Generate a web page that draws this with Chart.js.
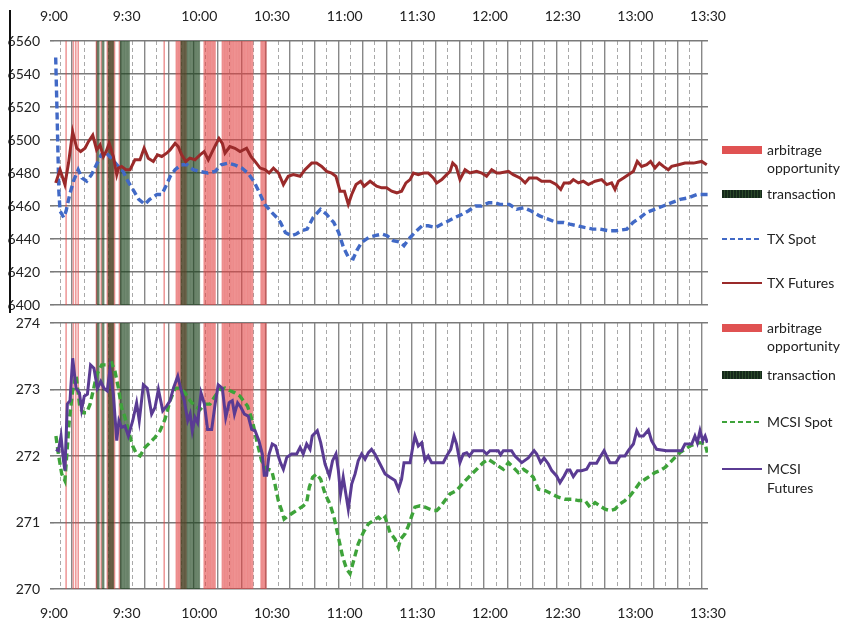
<!DOCTYPE html>
<html>
<head>
<meta charset="utf-8">
<title>TX / MCSI spot vs futures – arbitrage</title>
<script src="https://cdn.jsdelivr.net/npm/chart.js@4.4.1/dist/chart.umd.min.js"></script>
<style>
    html, body { margin: 0; padding: 0; background: #fff; }
    body { width: 843px; height: 623px; position: relative; overflow: hidden;
           font-family: Lato, "Open Sans", sans-serif; color: #222; }
    canvas { position: absolute; left: 0; }
    #txChart { top: 0; }
    #mcsiChart { top: 305px; }
    .edge { position: absolute; left: 9px; top: 10px; width: 2px; height: 303px; background: #111; }
    .sw { position: absolute; left: 722px; width: 40px; }
    .sw.arb { height: 8px; background: #e05252; }
    .sw.trn { height: 8px; background: repeating-linear-gradient(90deg, #15291a 0 2px, #2c4a2b 2px 3px); }
    .sw.line { height: 2px; }
    .tx { position: absolute; left: 767px; font-size: 14px; line-height: 18px; white-space: nowrap; }
</style>
</head>
<body>
<canvas id="txChart" width="735" height="318"></canvas>
<canvas id="mcsiChart" width="735" height="318"></canvas>
<div class="edge"></div>

<!-- legend, top panel -->
<div class="sw arb" style="top:146px"></div>
<div class="tx" style="top:141px">arbitrage<br>opportunity</div>
<div class="sw trn" style="top:190px"></div>
<div class="tx" style="top:185px">transaction</div>
<div class="sw line" style="top:238px;background:repeating-linear-gradient(90deg,#4169c6 0 5px,transparent 5px 8px)"></div>
<div class="tx" style="top:230px">TX Spot</div>
<div class="sw line" style="top:282px;background:#9a2a2a"></div>
<div class="tx" style="top:274px">TX Futures</div>

<!-- legend, bottom panel -->
<div class="sw arb" style="top:324px"></div>
<div class="tx" style="top:319px">arbitrage<br>opportunity</div>
<div class="sw trn" style="top:371px"></div>
<div class="tx" style="top:366px">transaction</div>
<div class="sw line" style="top:421px;background:repeating-linear-gradient(90deg,#3ea33a 0 5px,transparent 5px 8px)"></div>
<div class="tx" style="top:413px">MCSI Spot</div>
<div class="sw line" style="top:468px;background:#5a3b93"></div>
<div class="tx" style="top:459px;line-height:19px">MCSI<br>Futures</div>

<script>
// ── Axis ticks ────────────────────────────────────────────
// x values are minutes after 9:00
var TIME_TICKS  = [0, 30, 60, 90, 120, 150, 180, 210, 240, 270];
var TIME_LABELS = ['9:00', '9:30', '10:00', '10:30', '11:00', '11:30', '12:00', '12:30', '13:00', '13:30'];
var TX_TICKS    = [6400, 6420, 6440, 6460, 6480, 6500, 6520, 6540, 6560];
var MCSI_TICKS  = [270, 271, 272, 273, 274];

// ── Event minutes (shaded columns, both panels) ───────────
var arbitrage = [5, 8, 9, 10, 17.5, 19.5, 22, 22.5, 23, 23.5, 24, 24.5, 25, 27,
    45.5, 50.5, 51, 51.5, 52, 52.5, 53, 53.5, 54, 54.5,
    62, 62.5, 63, 63.5, 64, 64.5, 65, 65.5, 66, 66.5,
    69.5, 70, 70.5, 71, 71.5, 72, 72.5, 73, 73.5, 74, 74.5, 75, 75.5, 76, 76.5,
    77, 77.5, 78, 78.5, 79, 79.5, 80, 80.5, 81, 81.5, 82,
    85.5, 86, 86.5, 87, 87.5];
var transaction = [18, 18.5, 20, 20.5, 22.5, 23, 23.5, 24, 24.5,
    27.5, 28, 28.5, 29, 29.5, 30, 30.5, 31,
    52.5, 53, 53.5, 54, 54.5, 55, 55.5, 56, 56.5, 57, 57.5, 58, 58.5, 59, 59.5, 60];

// ── Series: [minute, value] ───────────────────────────────
var txSpot = [[0.7,6550],[1.2,6520],[2,6469],[2.5,6457],[4,6453],[5,6457],[6.5,6467],[8,6475],
    [10,6482],[11.5,6477],[13.5,6475],[15.5,6479],[17.5,6485],[19.5,6491],[21,6493],[23,6490],
    [26,6485],[28.5,6481],[30.5,6475],[33,6469],[35,6464],[37.5,6461],[39.5,6464],[42.5,6467],
    [44.5,6467],[46.5,6473],[48,6478],[50,6482],[52.5,6485],[55,6485],[57.5,6482],[60,6481],
    [63.5,6480],[66.5,6481],[69,6485],[72,6486],[74.5,6485],[77.5,6483],[80,6480],[82.5,6475],
    [84.5,6469],[87,6461],[90,6456],[92,6453],[93.5,6450],[95.5,6444],[98,6442],[100,6443],
    [102,6445],[104.5,6446],[107,6453],[110,6458],[112.5,6455],[115.5,6450],[117.5,6444],
    [119.5,6435],[121.5,6429],[123.5,6428],[125,6433],[127,6438],[130,6441],[132.5,6442],
    [135.5,6443],[137.5,6442],[140,6439],[143,6438],[144.5,6436],[146.5,6440],[149,6444],
    [152,6448],[154.5,6448],[157.5,6447],[160,6449],[163,6451],[165.5,6453],[168.5,6455],
    [171,6457],[174,6460],[176.5,6460],[179.5,6462],[182,6462],[184,6461],[188,6461],[191,6458],
    [194,6459],[197,6457],[200.5,6454],[204,6452],[207.5,6450],[210.5,6450],[213,6449],
    [216,6448],[219,6447],[222.5,6446],[225.5,6446],[229,6445],[232,6445],[236.5,6446],
    [239,6450],[242,6453],[244.5,6456],[248,6458],[251.5,6460],[255,6462],[258.5,6464],
    [262,6465],[265.5,6467],[270,6467]];

var txFutures = [[0.7,6474],[2.5,6482],[4.5,6473],[6,6486],[7.7,6505],[9.4,6495],[11,6493],
    [12.8,6495],[14.2,6499],[16,6503],[17.6,6494],[19,6497],[20.4,6490],[21.5,6493],[22.8,6498],
    [24.5,6490],[25.9,6479],[26.6,6483],[27.9,6484],[29.7,6482],[31.4,6482],[33.4,6488],
    [35.5,6488],[37.2,6495],[38.9,6489],[41,6487],[42.7,6491],[44.5,6490],[46.5,6492],
    [47.9,6494],[50,6498],[51.3,6496],[52.7,6491],[54.4,6487],[56.1,6489],[58.2,6488],
    [60.3,6491],[62,6493],[63.7,6488],[65.7,6494],[68.1,6501],[69.5,6498],[70.6,6492],
    [72.6,6496],[74.7,6495],[76.8,6493],[79.5,6495],[81.3,6490],[83,6487],[85.1,6483],
    [87.1,6482],[88.8,6480],[90.6,6483],[92.7,6480],[94.7,6473],[96.7,6478],[98.8,6479],
    [101.6,6478],[103.6,6482],[106.4,6486],[108.4,6486],[110.5,6484],[112.6,6481],[114.6,6480],
    [116.4,6478],[118.1,6469],[119.9,6469],[121.5,6461],[122.9,6467],[124.7,6473],[126.6,6475],
    [128,6472],[130.5,6475],[133.2,6472],[135.3,6471],[137.3,6471],[139.4,6469],[141.5,6468],
    [143.5,6469],[145.3,6474],[147,6476],[148.4,6480],[150.4,6479],[152.5,6480],[154.5,6480],
    [156.6,6477],[158,6474],[160.1,6476],[162.1,6479],[163.5,6481],[164.6,6486],[166,6484],
    [167.6,6476],[169.7,6482],[171.7,6480],[174.5,6481],[176.6,6480],[178.6,6478],[180.7,6482],
    [182.8,6480],[184.1,6480],[187.6,6481],[189.6,6479],[192.4,6477],[194.5,6474],[196.2,6477],
    [199.3,6477],[201.3,6475],[204.8,6475],[207.3,6473],[209.2,6470],[210.6,6474],[213,6474],
    [214.4,6476],[216.5,6474],[218.5,6475],[220.6,6473],[223.4,6475],[226.1,6476],[228.2,6473],
    [230.2,6474],[231.6,6470],[233,6475],[235.1,6477],[237.1,6479],[239.2,6481],[240.8,6487],
    [242.6,6484],[244.7,6485],[246.3,6487],[248.1,6483],[249.9,6486],[251.6,6484],[253.6,6482],
    [255,6484],[257.8,6485],[260.5,6486],[264,6486],[267.4,6487],[269.5,6485]];

var mcsiSpot = [[0.8,272.30],[1.8,272.03],[3.2,271.73],[4.5,271.63],[5.5,272.13],[6.3,272.53],
    [7.7,272.98],[9.1,273.22],[10.7,272.73],[12.1,272.65],[13.5,272.65],[14.9,272.78],[16.3,273.0],
    [17.6,273.22],[19.7,273.37],[21.8,273.37],[23.8,273.40],[25.2,273.27],[26.6,273.02],
    [27.9,272.73],[29.3,272.58],[30.7,272.38],[32.5,272.15],[34.1,272.03],[35.5,272.0],
    [37.6,272.13],[39.6,272.20],[41.7,272.28],[43.8,272.38],[45.8,272.55],[47.9,272.83],
    [50,273.02],[52,273.02],[54.1,272.95],[56.2,272.83],[58.2,272.75],[60.3,272.70],[62.3,272.78],
    [64.4,272.78],[66.5,272.90],[68.5,273.0],[70.6,273.02],[72.7,272.98],[74.7,272.95],
    [76.8,272.90],[78.2,272.83],[79.9,272.75],[81.9,272.53],[83.7,272.23],[85.7,271.93],
    [87.8,271.81],[89.9,271.78],[91.2,271.58],[92.6,271.33],[94,271.18],[95,271.05],[96.7,271.10],
    [98.8,271.15],[100.9,271.20],[102.9,271.25],[104.3,271.30],[105.4,271.53],[106.8,271.68],
    [108.4,271.73],[110.1,271.65],[111.9,271.43],[113.9,271.28],[115.6,271.08],[117.4,270.78],
    [119.2,270.48],[120.8,270.30],[122.2,270.23],[123.9,270.45],[125.6,270.68],[127.7,270.85],
    [129.8,270.98],[131.8,271.03],[133.9,271.08],[135.3,271.03],[136.7,271.08],[138.7,270.85],
    [140.8,270.75],[142.2,270.63],[143.1,270.75],[144.9,270.83],[146.3,270.95],[147.7,271.10],
    [149,271.23],[151.1,271.25],[153.2,271.23],[155.2,271.20],[156.6,271.18],[158,271.18],
    [159.4,271.23],[161.4,271.33],[163.5,271.43],[166.2,271.48],[169,271.60],[171.7,271.70],
    [174.5,271.80],[177.2,271.90],[179.3,271.95],[181.4,271.90],[183.4,271.85],[185.5,271.80],
    [187.6,271.90],[189.6,271.83],[191.7,271.75],[193.8,271.80],[195.8,271.75],[197.9,271.68],
    [200,271.50],[202.7,271.48],[205.5,271.43],[208.2,271.38],[211,271.35],[213.7,271.35],
    [216.5,271.33],[219.2,271.33],[221.3,271.23],[223.4,271.30],[225.4,271.25],[227.5,271.20],
    [229.5,271.18],[231.6,271.20],[233.7,271.28],[235.7,271.33],[237.8,271.40],[239.9,271.50],
    [241.9,271.60],[244,271.65],[246.1,271.70],[248.1,271.75],[250.2,271.78],[252.3,271.83],
    [254.3,271.90],[256.4,271.98],[258.4,272.05],[260.5,272.10],[262.6,272.15],[264.6,272.18],
    [266.7,272.20],[268.8,272.18],[269.7,272.05]];

var mcsiFutures = [[0.8,272.10],[1.8,272.08],[2.9,272.30],[3.9,271.93],[4.5,271.78],[5.5,272.78],
    [6.6,272.83],[7.7,273.47],[9.1,273.02],[10.5,272.95],[11.4,272.70],[12.5,272.90],[13.8,272.93],
    [15.1,273.37],[16.5,273.32],[17.9,273.02],[19.3,273.12],[20.6,273.02],[22,272.98],[23.1,273.30],
    [24.5,272.93],[25.9,272.23],[26.8,272.53],[27.9,272.43],[29.3,272.45],[30.7,272.30],
    [32.5,272.53],[34.1,272.80],[35.2,272.53],[36.9,273.07],[38.5,273.02],[40.3,272.63],
    [41.7,272.73],[43.1,273.0],[44.9,272.68],[46.5,272.75],[47.9,272.83],[49.3,273.02],
    [51.1,273.20],[52.4,273.0],[53.8,272.83],[55.2,272.53],[56.2,272.63],[57.1,272.38],
    [58.2,272.58],[59.3,272.50],[60.7,272.95],[62.1,272.78],[63.4,272.40],[65.1,272.40],
    [66.5,272.78],[67.8,273.07],[69.5,273.02],[70.9,272.58],[72.3,272.80],[73.6,272.83],
    [74.5,272.63],[75.8,272.80],[77.2,272.73],[78.6,272.63],[80.2,272.60],[81.6,272.40],
    [83,272.38],[84.6,272.23],[86,272.03],[86.8,271.71],[87.8,271.71],[88.8,272.03],[90.1,272.18],
    [91.5,272.15],[92.6,272.0],[93.5,271.90],[94.7,271.80],[96.1,271.98],[98.1,272.03],
    [100.2,272.03],[101.6,272.13],[102.9,272.03],[104.3,272.18],[105.7,272.10],[106.6,272.30],
    [108.7,272.38],[110.1,272.20],[111.9,271.88],[113.7,271.70],[115,271.93],[116.4,272.03],
    [117.4,271.78],[118.3,271.43],[119.4,271.68],[120.5,271.43],[121.5,271.20],[122.9,271.58],
    [124.3,271.73],[125.6,271.93],[127,272.03],[128.4,271.95],[129.8,272.05],[131.1,272.10],
    [132.5,272.03],[134.6,271.88],[136.7,271.73],[138.7,271.68],[140.8,271.63],[142.2,271.50],
    [143.5,271.65],[144.5,271.90],[147,271.90],[148.1,272.13],[149,272.30],[150.4,272.15],
    [151.8,272.20],[153.2,271.93],[154.5,272.0],[155.9,271.90],[160.7,271.90],[162.1,272.0],
    [163.8,272.10],[165.1,272.30],[166.2,272.18],[167.6,271.90],[169,272.03],[170.4,272.05],
    [171.5,272.0],[173.1,272.08],[177.2,272.08],[178.6,272.03],[180,272.08],[183.4,272.08],
    [184.4,272.02],[185.5,272.08],[188.9,272.08],[190.3,272.0],[193.1,271.90],[195.8,271.97],
    [198.2,272.08],[199.3,272.03],[200.9,271.90],[202.3,271.97],[204.1,271.88],[205.5,271.78],
    [207.5,271.70],[208.9,271.60],[210.6,271.70],[211.9,271.79],[213,271.79],[214.4,271.69],
    [216.1,271.78],[217.8,271.78],[219.9,271.80],[221.3,271.89],[224,271.89],[225.4,271.98],
    [227.1,272.08],[228.4,271.98],[229.5,271.90],[232,271.90],[233.7,272.0],[235.7,272.0],
    [237.1,272.08],[239.2,272.18],[240.6,272.38],[241.7,272.30],[243.3,272.30],[245.4,272.39],
    [246.7,272.23],[248.8,272.10],[252.9,272.08],[259.1,272.08],[260.5,272.18],[263.3,272.18],
    [264.6,272.30],[265.6,272.20],[266.7,272.38],[267.8,272.23],[268.8,272.30],[269.7,272.20]];

(function () {
    'use strict';

    Chart.defaults.font.family = 'Lato, "Open Sans", sans-serif';
    Chart.defaults.font.size = 14;
    Chart.defaults.color = '#222';

    function xy(pairs) {
        return pairs.map(function (p) { return { x: p[0], y: p[1] }; });
    }
    function columns(times, lo, hi) {
        return times.map(function (t) { return { x: t, y: [lo, hi] }; });
    }
    function isMajor(ctx) { return !ctx.tick || ctx.tick.value % 10 === 0; }

    // ── One panel: shaded events + spot (dashed) + futures (solid)
    function panel(canvasId, o) {
        var lo = o.yTicks[0];
        var hi = o.yTicks[o.yTicks.length - 1];
        return new Chart(document.getElementById(canvasId), {
            type: 'line',
            data: {
                datasets: [
                    { type: 'bar', label: 'arbitrage opportunity', data: columns(arbitrage, lo, hi),
                      backgroundColor: 'rgba(226,70,70,0.55)', barThickness: 0.9, grouped: false, order: 4 },
                    { type: 'bar', label: 'transaction', data: columns(transaction, lo, hi),
                      backgroundColor: 'rgba(30,68,30,0.6)', barThickness: 0.9, grouped: false, order: 3 },
                    { label: o.spotLabel, data: xy(o.spot), borderColor: o.spotColor, borderWidth: 3.4,
                      borderDash: [7, 4], pointRadius: 0, tension: 0, order: 2 },
                    { label: o.futLabel, data: xy(o.fut), borderColor: o.futColor, borderWidth: 3,
                      pointRadius: 0, tension: 0, order: 1 }
                ]
            },
            options: {
                responsive: false,
                animation: false,
                events: [],
                layout: { padding: o.padding },
                plugins: { legend: { display: false }, tooltip: { enabled: false } },
                scales: {
                    x: {
                        type: 'linear', position: o.xPos, min: 0, max: 270, offset: false,
                        afterFit: function (s) { s.height = o.xHeight; s.paddingLeft = 0; s.paddingRight = 0; },
                        ticks: {
                            stepSize: 5, autoSkip: false, maxRotation: 0, padding: 16,
                            callback: function (v) {
                                var i = TIME_TICKS.indexOf(v);
                                return i < 0 ? '' : TIME_LABELS[i];
                            }
                        },
                        grid: {
                            drawTicks: false,
                            color: function (c) { return isMajor(c) ? '#888' : '#a9a9a9'; },
                            lineWidth: function (c) { return isMajor(c) ? 1.4 : 1; }
                        },
                        border: {
                            display: false,
                            dash: function (c) { return isMajor(c) ? [] : [4, 3]; }
                        }
                    },
                    y: {
                        min: lo, max: hi,
                        afterFit: function (s) { s.width = 54; s.paddingTop = 0; s.paddingBottom = 0; },
                        ticks: {
                            stepSize: o.step, padding: 10,
                            callback: function (v) { return o.yTicks.indexOf(v) < 0 ? '' : '' + v; }
                        },
                        grid: { color: '#7a7a7a', lineWidth: 1.6, tickLength: 4 },
                        border: { display: false }
                    }
                }
            }
        });
    }

    panel('txChart', {
        yTicks: TX_TICKS, step: 20,
        spot: txSpot, spotLabel: 'TX Spot', spotColor: '#4169c6',
        fut: txFutures, futLabel: 'TX Futures', futColor: '#9a2a2a',
        xPos: 'top', xHeight: 41,
        padding: { top: 0, right: 27, bottom: 13, left: 0 }
    });

    panel('mcsiChart', {
        yTicks: MCSI_TICKS, step: 1,
        spot: mcsiSpot, spotLabel: 'MCSI Spot', spotColor: '#3ea33a',
        fut: mcsiFutures, futLabel: 'MCSI Futures', futColor: '#5a3b93',
        xPos: 'bottom', xHeight: 34,
        padding: { top: 18, right: 27, bottom: 0, left: 0 }
    });
}());
</script>
</body>
</html>
